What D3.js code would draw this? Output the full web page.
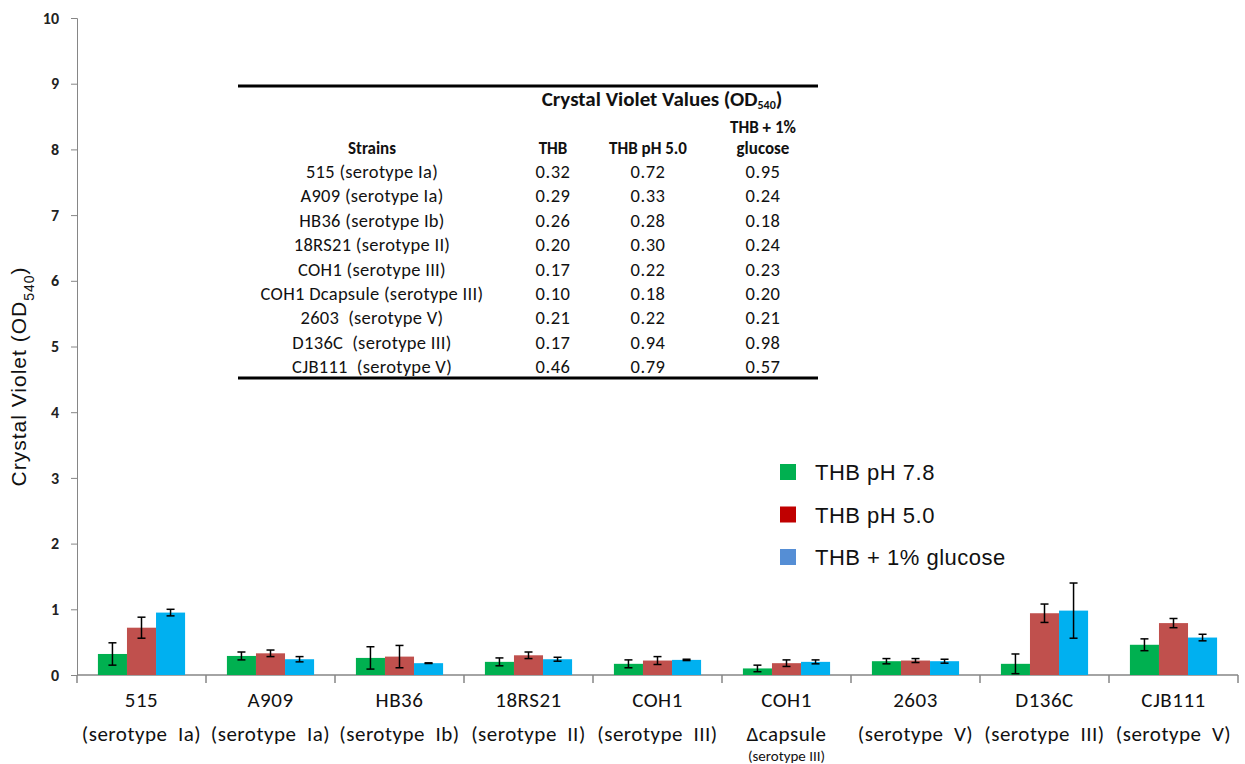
<!DOCTYPE html>
<html lang="en">
  <head>
    <meta charset="UTF-8" />
    <title>Crystal violet biofilm</title>
    <style>
      body { margin: 0; background: #fff; }
      svg text { font-family: Carlito, Calibri, "Open Sans", sans-serif; }
    </style>
  </head>
  <body>
    <div id="chart"></div>
    <script src="https://cdnjs.cloudflare.com/ajax/libs/d3/7.8.5/d3.min.js"></script>
    <script>
      // categories (x labels, one array per line)
      var catLine1 = ["515", "A909", "HB36", "18RS21", "COH1", "COH1", "2603", "D136C", "CJB111"];
      var catLine2 = ["(serotype  Ia)", "(serotype  Ia)", "(serotype  Ib)", "(serotype  II)", "(serotype  III)", "\u0394capsule", "(serotype  V)", "(serotype  III)", "(serotype  V)"];
      var catLine3 = ["", "", "", "", "", "(serotype III)", "", "", ""];

      var seriesNames = ["THB pH 7.8", "THB pH 5.0", "THB + 1% glucose"];
      var thb = [0.32, 0.29, 0.26, 0.20, 0.17, 0.10, 0.21, 0.17, 0.46];
      var thbPh5 = [0.72, 0.33, 0.28, 0.30, 0.22, 0.18, 0.22, 0.94, 0.79];
      var thbGlc = [0.95, 0.24, 0.18, 0.24, 0.23, 0.20, 0.21, 0.98, 0.57];
      // error bars
      var errThb = [0.17, 0.06, 0.17, 0.06, 0.06, 0.05, 0.04, 0.15, 0.09];
      var errPh5 = [0.16, 0.05, 0.17, 0.05, 0.06, 0.05, 0.03, 0.14, 0.07];
      var errGlc = [0.05, 0.04, 0.005, 0.03, 0.01, 0.03, 0.03, 0.42, 0.05];

      var yTicks = [0, 1, 2, 3, 4, 5, 6, 7, 8, 9, 10];

      // inset table
      var tableStrains = ["515 (serotype Ia)", "A909 (serotype Ia)", "HB36 (serotype Ib)", "18RS21 (serotype II)", "COH1 (serotype III)", "COH1 Dcapsule (serotype III)", "2603  (serotype V)", "D136C  (serotype III)", "CJB111  (serotype V)"];
      var tableCols = ["THB", "THB pH 5.0", "THB + 1%|glucose"];

      var barColors = ["#00b050", "#c0504d", "#00b0f0"];
      var legendColors = ["#00b050", "#c00000", "#558ed5"];

      var W = 1245, H = 764;
      var x0 = 77, x1 = 1238, yTop = 18, yBot = 675;

      var svg = d3.select("#chart").append("svg").attr("width", W).attr("height", H);

      var x = d3.scaleBand().domain(d3.range(catLine1.length)).range([x0, x1]).paddingInner(0).paddingOuter(0);
      var xs = d3.scaleBand().domain([0, 1, 2]).range([0, x.bandwidth()]).paddingOuter(0.72).paddingInner(0);
      var y = d3.scaleLinear().domain([0, 10]).range([yBot, yTop]);

      var series = [
        { vals: thb, err: errThb },
        { vals: thbPh5, err: errPh5 },
        { vals: thbGlc, err: errGlc }
      ];

      // y axis
      var yAxis = svg.append("g").attr("transform", "translate(" + x0 + ",0)")
        .call(d3.axisLeft(y).tickValues(yTicks).tickSize(6).tickPadding(12));
      yAxis.select(".domain").attr("stroke", "#868686");
      yAxis.selectAll(".tick line").attr("stroke", "#868686");
      yAxis.selectAll(".tick text").attr("font-size", 16).attr("font-weight", "bold").attr("fill", "#222");

      var yt = svg.append("text")
        .attr("transform", "translate(26," + ((yTop + yBot) / 2 + 30) + ") rotate(-90)")
        .attr("text-anchor", "middle")
        .style("font-family", "Arial, 'Liberation Sans', sans-serif")
        .style("letter-spacing", "1px")
        .attr("font-size", 21).attr("fill", "#111")
        .text("Crystal Violet (OD");
      yt.append("tspan").attr("baseline-shift", "sub").attr("font-size", 14).text("540");
      yt.append("tspan").text(")");

      // x axis
      svg.append("line").attr("x1", x0).attr("x2", x1).attr("y1", yBot).attr("y2", yBot)
        .attr("stroke", "#868686").attr("stroke-width", 1.5);
      svg.selectAll(".xtick").data(d3.range(catLine1.length + 1)).enter().append("line")
        .attr("x1", function (d) { return x0 + d * x.bandwidth(); })
        .attr("x2", function (d) { return x0 + d * x.bandwidth(); })
        .attr("y1", yBot).attr("y2", yBot + 8).attr("stroke", "#868686").attr("stroke-width", 1.5);

      var labels = svg.selectAll(".xlab").data(d3.range(catLine1.length)).enter().append("g")
        .attr("transform", function (i) { return "translate(" + (x(i) + x.bandwidth() / 2) + ",0)"; });
      labels.append("text").attr("y", 707).attr("text-anchor", "middle").attr("font-size", 21).attr("fill", "#111")
        .style("letter-spacing", "0.5px")
        .text(function (i) { return catLine1[i]; });
      labels.append("text").attr("y", 741).attr("text-anchor", "middle").attr("font-size", 21).attr("fill", "#111")
        .style("white-space", "pre").style("letter-spacing", "0.5px")
        .text(function (i) { return catLine2[i]; });
      labels.append("text").attr("y", 761).attr("text-anchor", "middle").attr("font-size", 15).attr("fill", "#111")
        .text(function (i) { return catLine3[i]; });

      // bars
      series.forEach(function (s, k) {
        var g = svg.append("g");
        g.selectAll("rect").data(s.vals).enter().append("rect")
          .attr("x", function (d, i) { return x(i) + xs(k); })
          .attr("width", xs.bandwidth())
          .attr("y", function (d) { return y(d); })
          .attr("height", function (d) { return yBot - y(d); })
          .attr("fill", barColors[k]);
        var e = g.selectAll(".err").data(s.vals).enter().append("g")
          .attr("stroke", "#000").attr("stroke-width", 1.5);
        e.append("line")
          .attr("x1", function (d, i) { return x(i) + xs(k) + xs.bandwidth() / 2; })
          .attr("x2", function (d, i) { return x(i) + xs(k) + xs.bandwidth() / 2; })
          .attr("y1", function (d, i) { return y(d + s.err[i]); })
          .attr("y2", function (d, i) { return y(Math.max(0, d - s.err[i])); });
        [1, -1].forEach(function (sg) {
          e.append("line")
            .attr("x1", function (d, i) { return x(i) + xs(k) + xs.bandwidth() / 2 - 4; })
            .attr("x2", function (d, i) { return x(i) + xs(k) + xs.bandwidth() / 2 + 4; })
            .attr("y1", function (d, i) { return y(Math.max(0, d + sg * s.err[i])); })
            .attr("y2", function (d, i) { return y(Math.max(0, d + sg * s.err[i])); });
        });
      });

      // legend
      var leg = svg.selectAll(".leg").data(seriesNames).enter().append("g")
        .attr("transform", function (d, i) { return "translate(780," + (464 + i * 42.5) + ")"; });
      leg.append("rect").attr("width", 16).attr("height", 16).attr("fill", function (d, i) { return legendColors[i]; });
      leg.append("text").attr("x", 35).attr("y", 16)
        .style("font-family", "Arial, 'Liberation Sans', sans-serif")
        .style("letter-spacing", "0.5px")
        .attr("font-size", 22).attr("fill", "#111").text(function (d) { return d; });

      // inset table
      var tb = svg.append("g");
      tb.append("line").attr("x1", 238).attr("x2", 818).attr("y1", 86).attr("y2", 86).attr("stroke", "#000").attr("stroke-width", 3);
      tb.append("line").attr("x1", 238).attr("x2", 818).attr("y1", 378).attr("y2", 378).attr("stroke", "#000").attr("stroke-width", 3);
      var hdr = tb.append("text").attr("x", 662).attr("y", 106).attr("text-anchor", "middle")
        .attr("font-size", 21).attr("font-weight", "bold").attr("fill", "#111").text("Crystal Violet Values (OD");
      hdr.append("tspan").attr("dy", 3).attr("font-size", 12).text("540");
      hdr.append("tspan").attr("dy", -3).text(")");
      var colX = [553, 648, 763];
      tb.append("text").attr("x", 372).attr("y", 154).attr("text-anchor", "middle").attr("font-size", 17)
        .attr("font-weight", "bold").attr("fill", "#111").text("Strains");
      tableCols.forEach(function (c, j) {
        var parts = c.split("|");
        parts.forEach(function (p, n) {
          tb.append("text").attr("x", colX[j]).attr("y", 154 - (parts.length - 1 - n) * 21)
            .attr("text-anchor", "middle").attr("font-size", 17).attr("font-weight", "bold").attr("fill", "#111").text(p);
        });
      });
      var rowY = d3.scaleLinear().domain([0, tableStrains.length - 1]).range([178, 373]);
      tableStrains.forEach(function (s, i) {
        tb.append("text").attr("x", 372).attr("y", rowY(i)).attr("text-anchor", "middle").attr("font-size", 18.5)
          .attr("fill", "#111").style("white-space", "pre").style("letter-spacing", "0.3px").text(s);
        series.forEach(function (sr, j) {
          tb.append("text").attr("x", colX[j]).attr("y", rowY(i)).attr("text-anchor", "middle").attr("font-size", 18.5)
            .attr("fill", "#111").style("letter-spacing", "0.5px").text(sr.vals[i].toFixed(2));
        });
      });
    </script>
  </body>
</html>
